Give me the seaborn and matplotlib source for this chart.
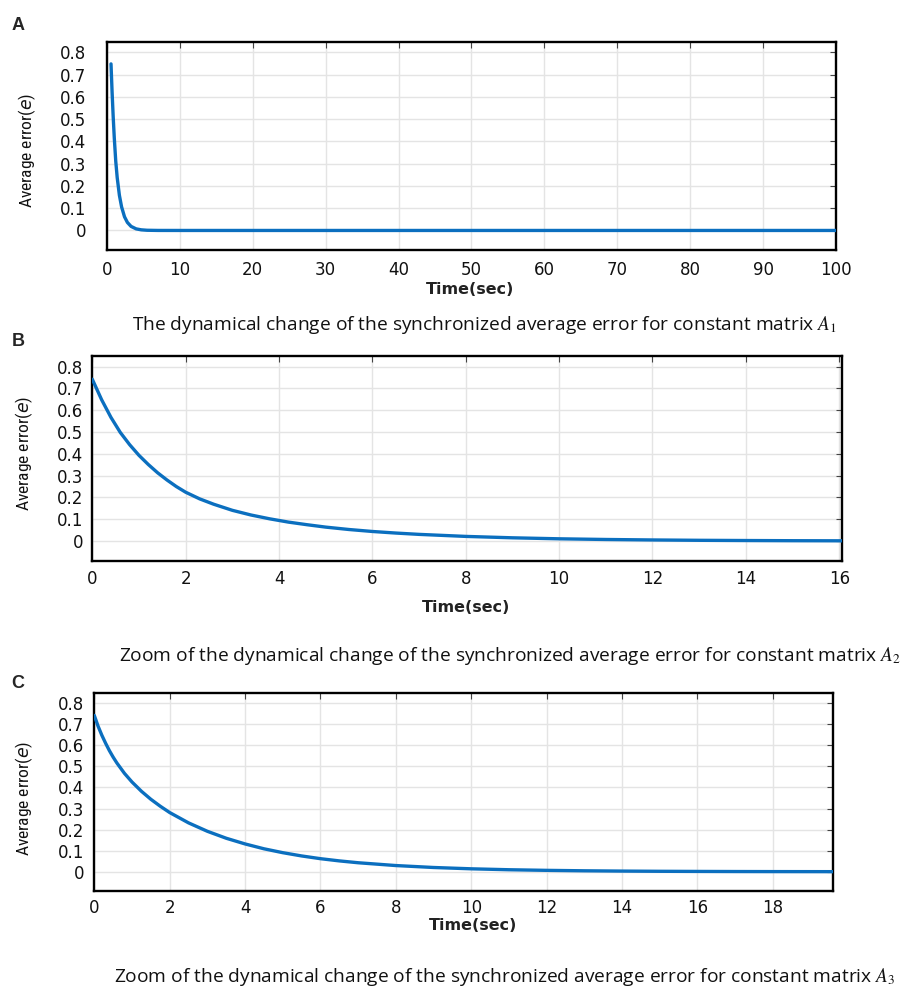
import numpy as np
import pandas as pd
import matplotlib
matplotlib.use("Agg")
import matplotlib.pyplot as plt
from matplotlib import font_manager as fm
import seaborn as sns

# ---- data: average synchronization error over time ----
time_a = [0.55, 0.7, 0.85, 1.0, 1.2, 1.4, 1.7, 2.0, 2.4, 2.8, 3.3, 4.0, 4.7,
          5.5, 7.0, 10.0, 100.0]
err_a = [0.748, 0.62, 0.51, 0.415, 0.311, 0.237, 0.158, 0.106, 0.0615, 0.0359,
         0.0183, 0.0071, 0.0028, 0.0009, 0.0001, 0.0, 0.0]

time_b = [0, 0.2, 0.4, 0.6, 0.8, 1.0, 1.2, 1.4, 1.6, 1.8, 2.0, 2.3, 2.6, 3.0,
          3.4, 3.8, 4.2, 4.6, 5.0, 5.5, 6.0, 6.5, 7.0, 8.0, 9.0, 10.0, 11.0,
          12.0, 13.0, 14.0, 15.0, 16.1]
err_b = [0.742, 0.648, 0.567, 0.498, 0.442, 0.393, 0.351, 0.313, 0.280, 0.250,
         0.224, 0.1935, 0.169, 0.141, 0.1195, 0.102, 0.087, 0.075, 0.064, 0.053,
         0.044, 0.0368, 0.0307, 0.0214, 0.015, 0.0104, 0.0073, 0.0051, 0.0035,
         0.0025, 0.0017, 0.0012]

time_c = [0, 0.1, 0.2, 0.3, 0.4, 0.5, 0.6, 0.8, 1.0, 1.25, 1.5, 1.75, 2.0, 2.5,
          3.0, 3.5, 4.0, 4.5, 5.0, 5.5, 6.0, 6.5, 7.0, 8.0, 9.0, 10.0, 11.0,
          12.0, 13.0, 14.0, 15.0, 16.0, 17.0, 18.0, 19.6]
err_c = [0.742, 0.691, 0.648, 0.610, 0.575, 0.544, 0.516, 0.467, 0.426, 0.382,
         0.344, 0.311, 0.281, 0.232, 0.192, 0.159, 0.132, 0.109, 0.0905, 0.075,
         0.062, 0.0515, 0.0427, 0.0294, 0.0202, 0.0139, 0.0095, 0.0066, 0.0045,
         0.0031, 0.0021, 0.0015, 0.001, 0.0007, 0.0004]

y_ticks = [0, 0.1, 0.2, 0.3, 0.4, 0.5, 0.6, 0.7, 0.8]
x_ticks_a = list(range(0, 101, 10))
x_ticks_b = list(range(0, 17, 2))
x_ticks_c = list(range(0, 19, 2))

panel_letters = ["A", "B", "C"]
captions = [
    "The dynamical change of the synchronized average error for constant matrix $A_1$",
    "Zoom of the dynamical change of the synchronized average error for constant matrix $A_2$",
    "Zoom of the dynamical change of the synchronized average error for constant matrix $A_3$",
]
y_label = "Average error($e$)"
x_label = "Time(sec)"

# ---- style ----
sns.set_theme(style="whitegrid")
plt.rcParams["font.family"] = ["DejaVu Sans"]

available = {f.name for f in fm.fontManager.ttflist}


def first_font(names):
    for n in names:
        if n in available:
            return n
    return "DejaVu Sans"


narrow_font = first_font(["Liberation Sans Narrow", "Roboto Condensed", "Lato"])
caption_font = first_font(["Open Sans", "Lato"])

LINE_BLUE = "#0b6fbf"
W, H = 912, 992

fig = plt.figure(figsize=(W / 100, H / 100), dpi=100)
fig.patch.set_facecolor("white")


def fx(px):
    return px / W


def fy(py):
    return 1 - py / H


panels = [
    dict(t=time_a, e=err_a, rect=(107, 42.3, 836, 250.5), xlim=(0, 100), ylim=(-0.09, 0.845),
         xticks=x_ticks_a, ypad=15, xpad=7.5,
         letter=(18, 25), ylab=(27, 150), xlab=(470, 290), cap=(484, 325)),
    dict(t=time_b, e=err_b, rect=(92.3, 355.7, 842, 560.7), xlim=(0, 16.06), ylim=(-0.09, 0.85),
         xticks=x_ticks_b, ypad=6.5, xpad=7,
         letter=(18, 342), ylab=(24, 453), xlab=(466, 607), cap=(510, 656)),
    dict(t=time_c, e=err_c, rect=(94.3, 693.3, 833, 890.7), xlim=(0, 19.6), ylim=(-0.09, 0.847),
         xticks=x_ticks_c, ypad=7.5, xpad=6,
         letter=(18, 683), ylab=(24, 798), xlab=(473, 925), cap=(505, 977)),
]

for i, p in enumerate(panels):
    l, t, r, b = p["rect"]
    ax = fig.add_axes([fx(l), fy(b), fx(r - l), (b - t) / H])
    ax.set_facecolor("white")
    df = pd.DataFrame({"time": p["t"], "error": p["e"]})
    sns.lineplot(data=df, x="time", y="error", ax=ax, color=LINE_BLUE,
                 linewidth=2.4, estimator=None, sort=False, zorder=3)
    ax.set_xlim(*p["xlim"])
    ax.set_ylim(*p["ylim"])
    ax.set_xticks(p["xticks"])
    ax.set_xticklabels([f"{v:g}" for v in p["xticks"]])
    ax.set_yticks(y_ticks)
    ax.set_yticklabels([f"{v:g}" for v in y_ticks])
    ax.set_xlabel("")
    ax.set_ylabel("")
    ax.grid(True, color="#e4e4e4", linewidth=1.0)
    ax.tick_params(axis="both", direction="in", length=4, width=0.8, color="#444444",
                   top=True, right=True, labelsize=12, labelcolor="#111111")
    ax.tick_params(axis="y", pad=p["ypad"])
    ax.tick_params(axis="x", pad=p["xpad"])
    for s in ax.spines.values():
        s.set_color("black")
        s.set_linewidth(1.7)
        s.set_visible(True)

    fig.text(fx(p["letter"][0]), fy(p["letter"][1]), panel_letters[i],
             ha="center", va="center", fontsize=13, fontweight="bold",
             family=["Liberation Sans", "DejaVu Sans"])
    fig.text(fx(p["ylab"][0]), fy(p["ylab"][1]), y_label, rotation=90,
             ha="center", va="center", fontsize=12.5, family=[narrow_font, "DejaVu Sans"],
             math_fontfamily="dejavusans", color="#111111")
    fig.text(fx(p["xlab"][0]), fy(p["xlab"][1]), x_label, ha="center", va="center",
             fontsize=11.5, fontweight="bold", color="#222222")
    fig.text(fx(p["cap"][0]), fy(p["cap"][1]), captions[i], ha="center", va="center",
             fontsize=13.8, family=[caption_font, "DejaVu Sans"],
             math_fontfamily="stix", color="#111111")

fig.savefig("out.png", dpi=100, facecolor="white")
